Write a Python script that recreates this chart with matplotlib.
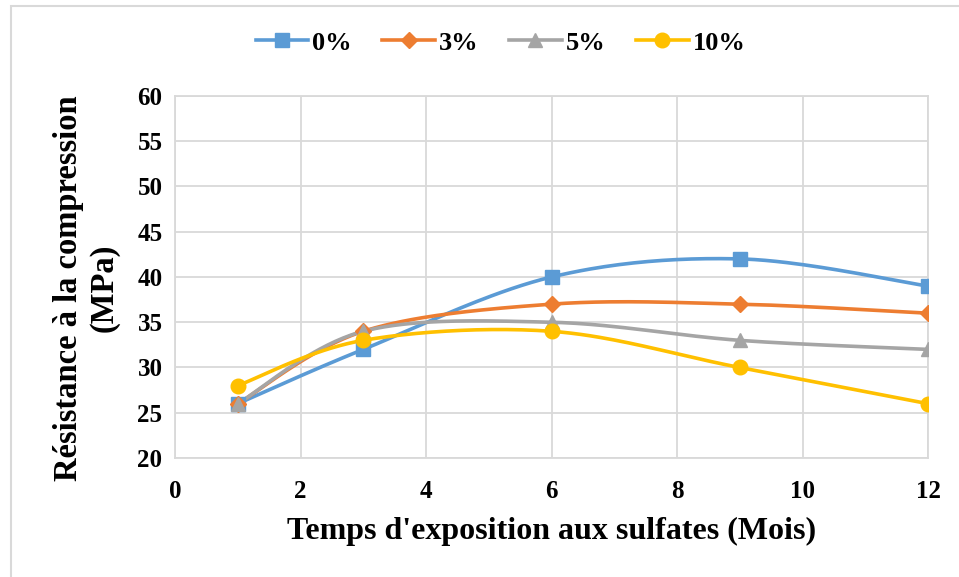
import numpy as np
import matplotlib
matplotlib.use("Agg")
import matplotlib.pyplot as plt
from matplotlib.lines import Line2D
from matplotlib.patches import Rectangle

months = [1, 3, 6, 9, 12]
series_labels = ["0%", "3%", "5%", "10%"]
strength_0 = [26, 32, 40, 42, 39]
strength_3 = [26, 34, 37, 37, 36]
strength_5 = [26, 34, 35, 33, 32]
strength_10 = [28, 33, 34, 30, 26]
colors = ["#5B9BD5", "#ED7D31", "#A5A5A5", "#FFC000"]
markers = ["s", "D", "^", "o"]
msizes = [10.5, 8.5, 10.5, 10.5]

plt.rcParams["font.family"] = ["Liberation Serif", "DejaVu Serif"]
plt.rcParams["font.weight"] = "bold"

fig = plt.figure(figsize=(9.59, 5.77), dpi=100)
ax = fig.add_axes([175 / 959, 1 - 458 / 577, (928 - 175) / 959, (458 - 96) / 577])
ax.set_xlim(0, 12)
ax.set_ylim(20, 60)

# outer chart border
fig.patches.append(Rectangle((11 / 959, -0.05), 1.2, 1 - 6 / 577 + 0.05,
                             transform=fig.transFigure, fill=False,
                             edgecolor="#D9D9D9", linewidth=1.5))


def smooth(xs, ys, n=40):
    # Catmull-Rom style bezier smoothing computed in display space
    pts = ax.transData.transform(np.column_stack([xs, ys]))
    out = []
    m = len(pts)
    for i in range(m - 1):
        p0 = pts[max(i - 1, 0)]
        p1 = pts[i]
        p2 = pts[i + 1]
        p3 = pts[min(i + 2, m - 1)]
        c1 = p1 + (p2 - p0) / 6
        c2 = p2 - (p3 - p1) / 6
        t = np.linspace(0, 1, n)[:, None]
        seg = ((1 - t) ** 3) * p1 + 3 * ((1 - t) ** 2) * t * c1 + 3 * (1 - t) * t ** 2 * c2 + t ** 3 * p2
        out.append(seg if i == 0 else seg[1:])
    pts_s = np.vstack(out)
    return ax.transData.inverted().transform(pts_s)


all_series = [strength_0, strength_3, strength_5, strength_10]
for vals, c, mk, ms, lab in zip(all_series, colors, markers, msizes, series_labels):
    curve = smooth(months, vals)
    ax.plot(curve[:, 0], curve[:, 1], color=c, linewidth=2.6, solid_capstyle="round", zorder=3)
    ax.plot(months, vals, linestyle="none", marker=mk, markersize=ms, color=c, zorder=4)

ax.set_xticks(np.arange(0, 13, 2))
ax.set_yticks(np.arange(20, 61, 5))
ax.grid(True, color="#D9D9D9", linewidth=1.3)
ax.set_axisbelow(True)
for s in ax.spines.values():
    s.set_color("#D9D9D9")
    s.set_linewidth(1.3)
ax.tick_params(length=0, labelsize=18)
ax.tick_params(axis="y", pad=9)
ax.tick_params(axis="x", pad=16)
for t in ax.get_xticklabels() + ax.get_yticklabels():
    t.set_fontweight("bold")

ax.set_xlabel("Temps d'exposition aux sulfates (Mois)", fontsize=23, fontweight="bold", labelpad=10)
ax.set_ylabel("Résistance à la compression\n(MPa)", fontsize=23.5, fontweight="bold",
              linespacing=1.15)
ax.yaxis.set_label_coords(-0.074, 0.47)

handles = [Line2D([], [], color=c, marker=mk, markersize=ms, linewidth=2.6)
           for c, mk, ms in zip(colors, markers, msizes)]
fig.legend(handles, series_labels, loc="center", bbox_to_anchor=(0.522, 1 - 43 / 577), ncol=4,
           frameon=False, prop={"size": 19, "weight": "bold"}, handlelength=2.0,
           columnspacing=1.15, handletextpad=0.15)

fig.savefig("out.png", dpi=100)
